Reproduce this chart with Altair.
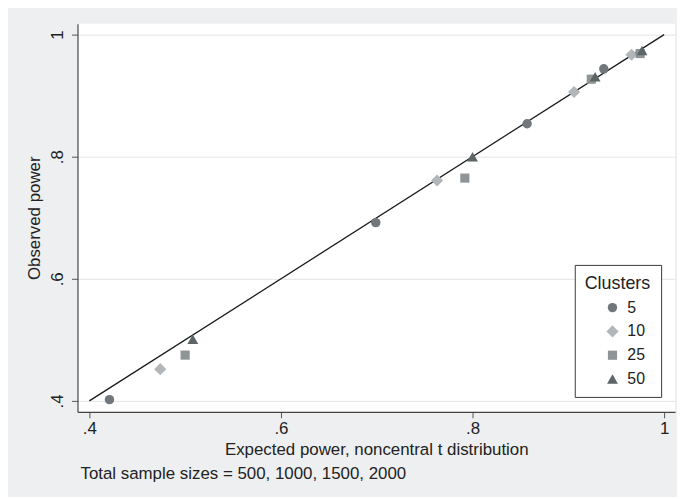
import altair as alt
import pandas as pd

# ---- data ----
clusters = ["5", "10", "25", "50"]
expected_5 = [0.421, 0.699, 0.857, 0.937]
observed_5 = [0.402, 0.692, 0.854, 0.944]
expected_10 = [0.474, 0.763, 0.906, 0.966]
observed_10 = [0.452, 0.761, 0.906, 0.967]
expected_25 = [0.500, 0.792, 0.924, 0.975]
observed_25 = [0.475, 0.765, 0.927, 0.969]
expected_50 = [0.508, 0.800, 0.928, 0.977]
observed_50 = [0.501, 0.800, 0.931, 0.974]
ref_x = [0.4, 1.0]
ref_y = [0.4, 1.0]
tick_values = [0.4, 0.6, 0.8, 1.0]
note_text = "Total sample sizes = 500, 1000, 1500, 2000"

series = {
    "5": (expected_5, observed_5),
    "10": (expected_10, observed_10),
    "25": (expected_25, observed_25),
    "50": (expected_50, observed_50),
}
rows = []
for c in clusters:
    ex, ob = series[c]
    for a, b in zip(ex, ob):
        rows.append({"Clusters": c, "expected": a, "observed": b})
pts = pd.DataFrame(rows)
line_df = pd.DataFrame({"expected": ref_x, "observed": ref_y})

FONT = "Liberation Sans"
label_expr = "datum.value == 1 ? '1' : replace(format(datum.value, '.1f'), '0.', '.')"

xscale = alt.Scale(domain=[0.3876, 1.0114], nice=False, zero=False)
yscale = alt.Scale(domain=[0.3821, 1.0179], nice=False, zero=False)

xaxis = alt.Axis(values=tick_values, labelExpr=label_expr, grid=False,
                 title="Expected power, noncentral t distribution",
                 titlePadding=5, labelPadding=3)
yaxis = alt.Axis(values=tick_values, labelExpr=label_expr, grid=True,
                 title="Observed power", labelAngle=270, labelAlign="center",
                 labelBaseline="bottom", labelPadding=5, titlePadding=5)

line = alt.Chart(line_df).mark_line(color="#1a1a1a", strokeWidth=1.3).encode(
    x=alt.X("expected:Q", scale=xscale, axis=xaxis),
    y=alt.Y("observed:Q", scale=yscale, axis=yaxis),
)

legend = alt.Legend(
    title="Clusters", orient="none", legendX=501, legendY=243,
    fillColor="white", strokeColor="#3a3a3a", padding=10,
    titleFontSize=18, titleFontWeight="normal", titleAnchor="middle",
    titleAlign="center", titleColor="#222", titlePadding=7,
    labelFontSize=16, labelColor="#222", labelFont=FONT, titleFont=FONT,
    rowPadding=8, symbolOffset=14, labelOffset=7, symbolStrokeWidth=0,
)

points = alt.Chart(pts).mark_point(filled=True, opacity=1).encode(
    x=alt.X("expected:Q", scale=xscale),
    y=alt.Y("observed:Q", scale=yscale),
    color=alt.Color("Clusters:N", scale=alt.Scale(domain=clusters,
                    range=["#71777a", "#b3b6b8", "#8f9496", "#5e6567"]), legend=legend),
    shape=alt.Shape("Clusters:N", scale=alt.Scale(domain=clusters,
                    range=["circle", "diamond", "square", "triangle-up"]), legend=legend),
    size=alt.Size("Clusters:N", scale=alt.Scale(type="ordinal", domain=clusters,
                    range=[90, 150, 85, 120]), legend=legend),
)

chart = alt.layer(line, points).properties(
    width=602, height=391,
    autosize=alt.AutoSizeParams(type="none"),
    padding={"left": 70, "top": 14, "right": 2, "bottom": 84},
    background="#eeeff0",
    title=alt.TitleParams(note_text, orient="bottom", anchor="start", frame="group",
                          fontSize=17, fontWeight="normal", font=FONT, color="#222",
                          offset=9, dx=3),
).configure_view(fill="white", stroke=None).configure_axis(
    labelFont=FONT, titleFont=FONT, labelFontSize=17, titleFontSize=17,
    titleFontWeight="normal", labelColor="#222", titleColor="#222",
    domainColor="#444", domainWidth=1.2, tickColor="#555", tickSize=6,
    gridColor="#e4e4e4", gridWidth=1,
)

chart.save("out.html", embed_options={"renderer": "svg", "actions": False})
